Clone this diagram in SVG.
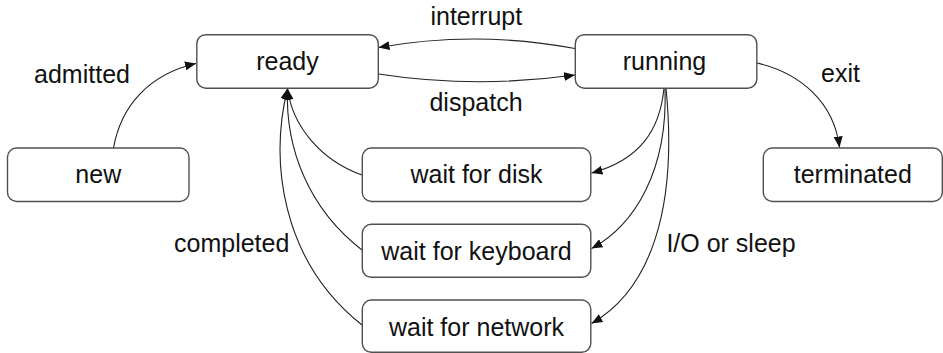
<svg xmlns="http://www.w3.org/2000/svg" width="943" height="353" viewBox="0 0 943 353">
  <style>
    .box { fill: #ffffff; stroke: #505050; stroke-width: 1.4; }
    .lbl { font-family: "Liberation Sans", Arial, sans-serif; font-size: 25px; fill: #111111; text-anchor: middle; }
    .edge { fill: none; stroke: #222222; stroke-width: 1.1; marker-end: url(#arrow); }
  </style>
  <defs>
    <marker id="arrow" markerUnits="userSpaceOnUse" markerWidth="12" markerHeight="9" refX="11" refY="4.5" orient="auto">
      <path d="M0,0 L11,4.5 L0,9 Z" fill="#111111"/>
    </marker>
  </defs>
  <rect width="943" height="353" fill="#ffffff"/>

  <g id="connectors">
    <!-- admitted -->
    <path class="edge" d="M113.5,148 C121,105 150,74 196,63.5"/>
    <!-- dispatch -->
    <path class="edge" d="M378.5,74 Q476,89 575,75"/>
    <!-- interrupt -->
    <path class="edge" d="M575,48.5 Q476,30 378.5,47.5"/>
    <!-- exit -->
    <path class="edge" d="M757,63 C800,73 834,102 839.5,147.5"/>
    <!-- I/O or sleep -->
    <path class="edge" d="M664,88 C660,130 640,160 591.5,173"/>
    <path class="edge" d="M665,88 C668,170 635,225 591.5,248.5"/>
    <path class="edge" d="M666,88 C678,210 650,290 591.5,323.5"/>
    <!-- completed -->
    <path class="edge" d="M362,175 C320,160 292,125 287.5,88.5"/>
    <path class="edge" d="M362,250 C310,210 285,150 287.5,88.5"/>
    <path class="edge" d="M362,325 C280,260 270,160 287.5,88.5"/>
  </g>

  <g id="new">
    <rect class="box" x="7.5" y="148" width="181.5" height="53.5" rx="9"/>
    <text class="lbl" x="98.3" y="183">new</text>
  </g>
  <g id="ready">
    <rect class="box" x="196.8" y="34.7" width="181.5" height="53.5" rx="9"/>
    <text class="lbl" x="287.5" y="70.3">ready</text>
  </g>
  <g id="running">
    <rect class="box" x="575.3" y="34.7" width="181.5" height="53.5" rx="9"/>
    <text class="lbl" x="664.5" y="70.3">running</text>
  </g>
  <g id="terminated">
    <rect class="box" x="763.3" y="148" width="179" height="53.5" rx="9"/>
    <text class="lbl" x="852.8" y="183.3">terminated</text>
  </g>
  <g id="wait-disk">
    <rect class="box" x="362.3" y="148" width="228.5" height="53.5" rx="9"/>
    <text class="lbl" x="476.5" y="183.3">wait for disk</text>
  </g>
  <g id="wait-keyboard">
    <rect class="box" x="362.3" y="224.3" width="228.5" height="53" rx="9"/>
    <text class="lbl" x="476.5" y="260">wait for keyboard</text>
  </g>
  <g id="wait-network">
    <rect class="box" x="362.3" y="300" width="228.5" height="52.3" rx="9"/>
    <text class="lbl" x="476.5" y="335.7">wait for network</text>
  </g>

  <g id="edge-labels">
    <text class="lbl" x="82" y="82.7">admitted</text>
    <text class="lbl" x="476.3" y="25">interrupt</text>
    <text class="lbl" x="476" y="111">dispatch</text>
    <text class="lbl" x="840.5" y="82.3">exit</text>
    <text class="lbl" x="231.7" y="252">completed</text>
    <text class="lbl" x="731" y="252">I/O or sleep</text>
  </g>
</svg>
